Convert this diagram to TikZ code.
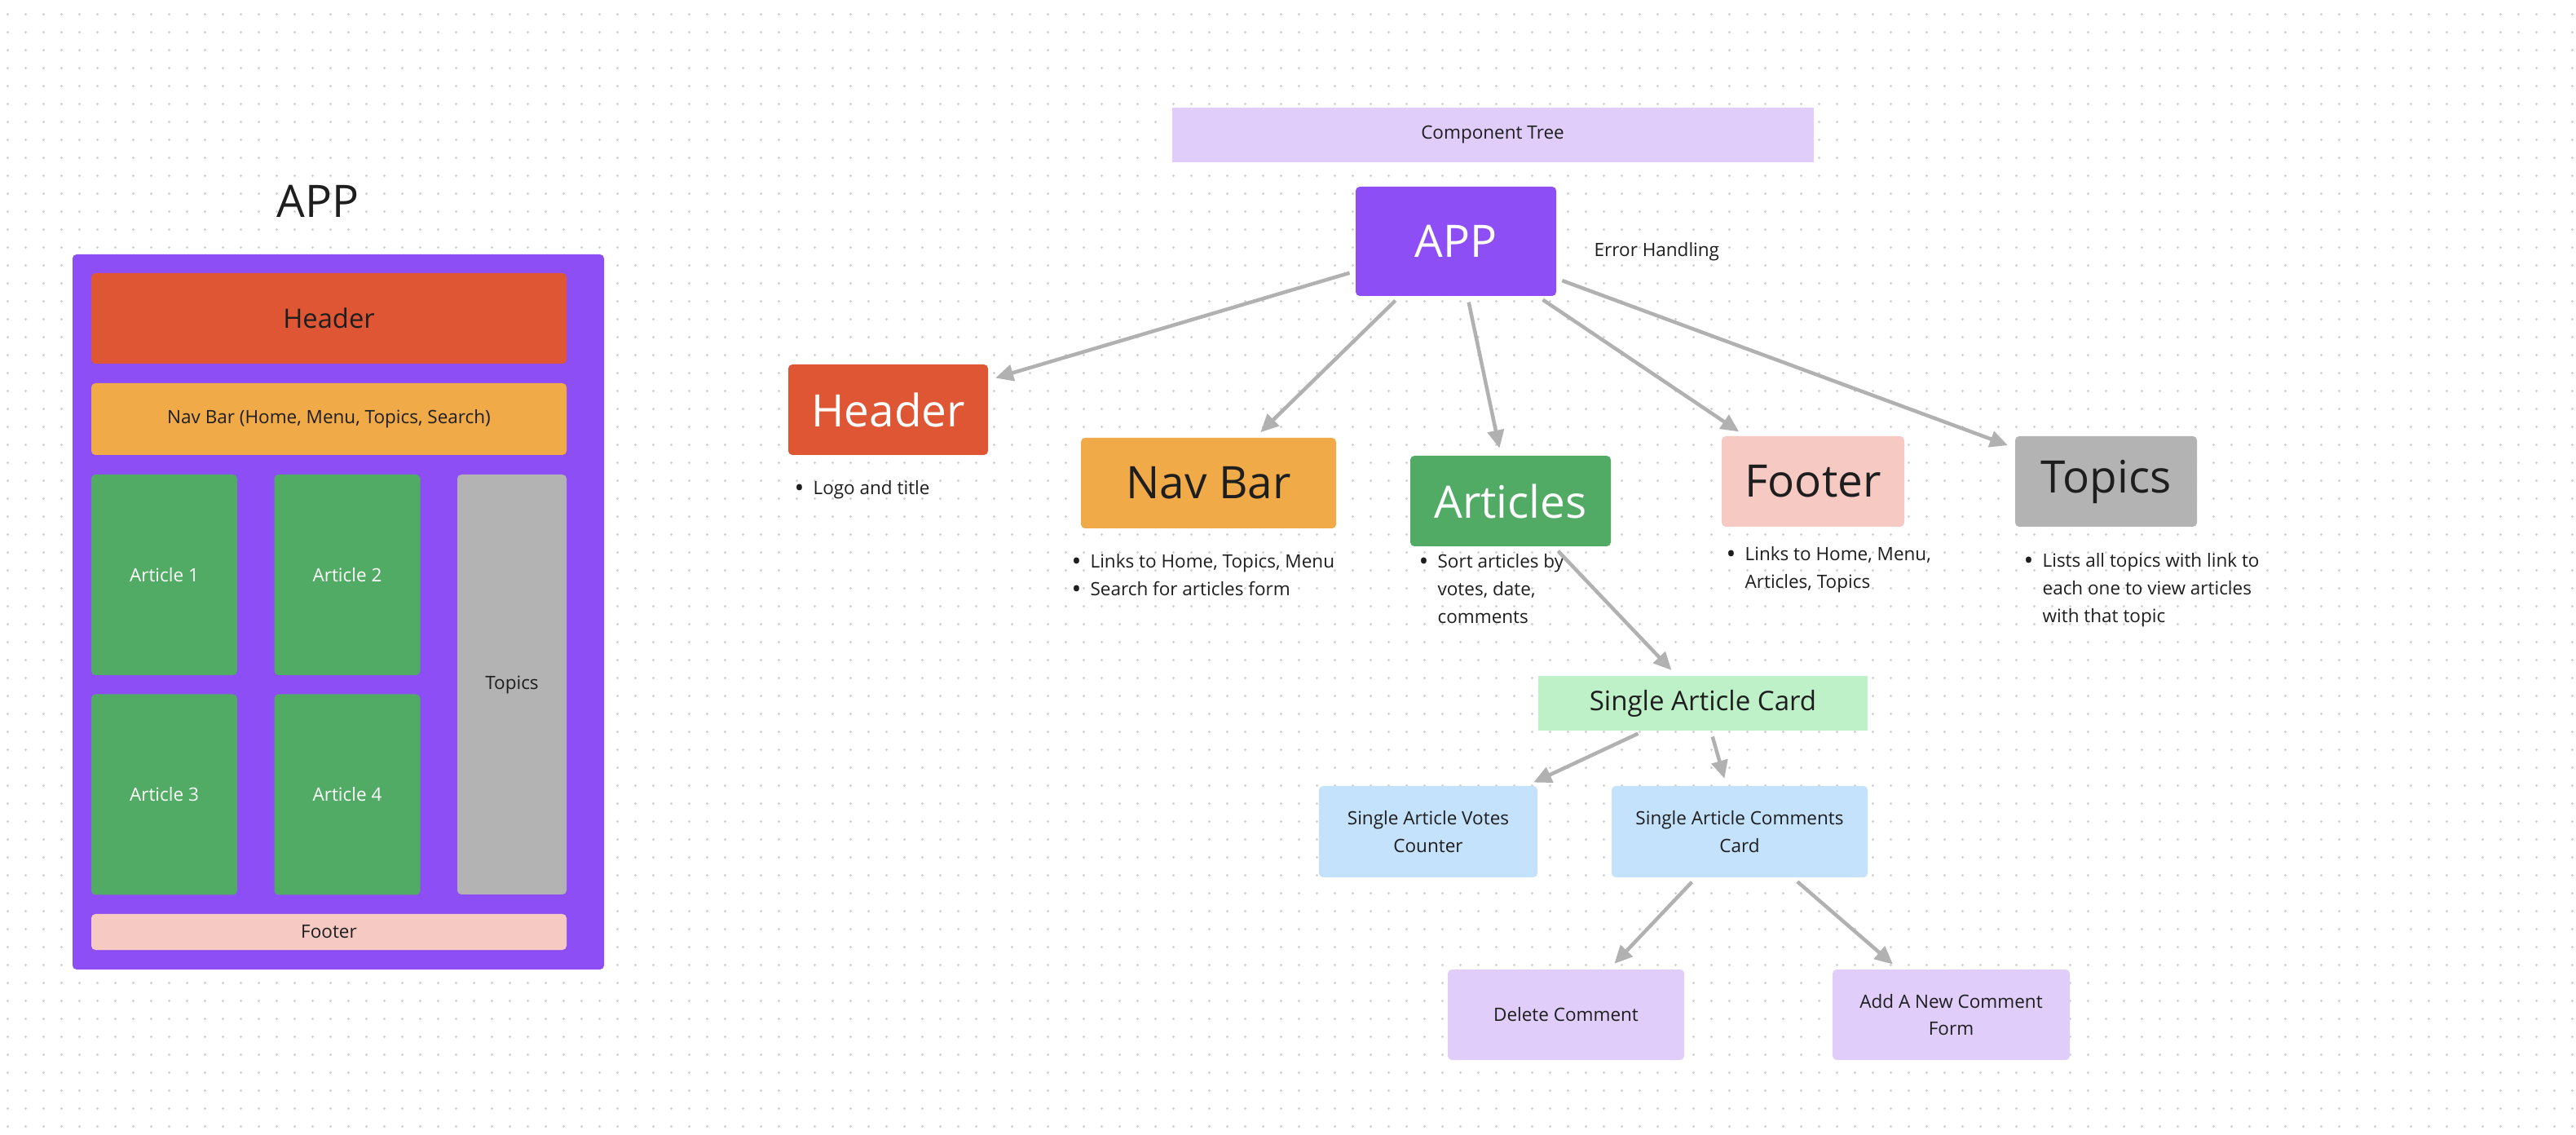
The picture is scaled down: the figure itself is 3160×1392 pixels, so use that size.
\documentclass[tikz,border=0pt]{standalone}
\usepackage{fontspec}
\setmainfont{Open Sans}
\usetikzlibrary{arrows.meta,patterns.meta}

\definecolor{appviolet}{HTML}{8E4EF5}
\definecolor{headerred}{HTML}{DF5634}
\definecolor{navorange}{HTML}{F0AA48}
\definecolor{artgreen}{HTML}{52AB65}
\definecolor{topgray}{HTML}{B3B3B3}
\definecolor{footpink}{HTML}{F6C9C2}
\definecolor{lilac}{HTML}{E0CDFA}
\definecolor{mint}{HTML}{BFF1C9}
\definecolor{skyblue}{HTML}{C4E2FB}
\definecolor{linegray}{HTML}{B1B1B1}
\definecolor{dotgray}{HTML}{CFCFCF}
\definecolor{ink}{HTML}{1E1E1E}

\tikzdeclarepattern{
	name=canvasdots,
	type=uncolored,
	bounding box={(0cm,0cm) and (0.22cm,0.22cm)},
	tile size={(0.22cm,0.22cm)},
	code={\fill (0.11cm,0.11cm) circle (0.017cm);}
}

\newcommand{\bulletlines}[1]{\begin{tabular}[t]{@{}c@{\hspace{0.11cm}}l@{}}#1\end{tabular}}
\newcommand{\dotmark}{\raisebox{-0.8pt}{\fontsize{9}{9.6}\selectfont\textbullet}}

\begin{document}
\begin{tikzpicture}[x=0.01cm, y=-0.01cm,
	boxsize/.style 2 args={minimum width=#1*0.01cm, minimum height=#2*0.01cm},
	box/.style={rounded corners=0.05cm, inner sep=0pt, align=center, text=ink, font=\fontsize{6.4}{9.6}\selectfont},
	bigbox/.style={box, font=\fontsize{15.6}{18}\selectfont},
	flatbox/.style={box, rounded corners=0pt},
	note/.style={anchor=base west, inner sep=0pt, text=ink, font=\fontsize{6.4}{9.6}\selectfont},
	link/.style={draw=linegray, line width=0.045cm, -{Triangle[length=0.22cm,width=0.2cm]}, shorten <=2pt, shorten >=2.5pt}]

	\useasboundingbox (0,0) rectangle (3160,1392);
	\fill[white] (0,0) rectangle (3160,1392);
	\fill[pattern=canvasdots, pattern color=dotgray] (0,0) rectangle (3160,1392); % canvas dots

	% layout sketch
	\node[text=ink, inner sep=0pt, font=\fontsize{15.6}{18}\selectfont] (lapp) at (390,247) {APP};
	\node[box, fill=appviolet, boxsize={652}{877}] (lframe) at (415,750.5) {};
	\node[box, fill=headerred, boxsize={583}{111}, font=\fontsize{9.3}{11}\selectfont] (lheader) at (403.5,390.5) {Header};
	\node[box, fill=navorange, boxsize={583}{88}] (lnav) at (403.5,514) {Nav Bar (Home, Menu, Topics, Search)};
	\foreach \n/\x/\y in {1/201.5/705, 2/426/705, 3/201.5/974.5, 4/426/974.5}
		\node[box, fill=artgreen, text=white, boxsize={179}{246}] (lart\n) at (\x,\y) {Article \n};
	\node[box, fill=topgray, boxsize={134}{515}] (ltopics) at (628,839.5) {Topics};
	\node[box, fill=footpink, boxsize={583}{44}] (lfooter) at (403.5,1143) {Footer};

	% component tree
	\node[flatbox, fill=lilac, boxsize={787}{67}] (tree) at (1831,165.5) {Component Tree};
	\node[bigbox, fill=appviolet, text=white, boxsize={246}{134}] (app) at (1786,296) {APP};
	\node[note] (errors) at (1955,315) {Error Handling};

	\node[bigbox, fill=headerred, text=white, boxsize={245}{111}] (header) at (1089.5,502.5) {Header};
	\node[bigbox, fill=navorange, boxsize={313}{111}] (navbar) at (1482.5,592.5) {Nav Bar};
	\node[bigbox, fill=artgreen, text=white, boxsize={246}{111}] (articles) at (1853,614.5) {Articles};
	\node[bigbox, fill=footpink, boxsize={224}{111}] (footer) at (2224,590.5) {Footer};
	\node[bigbox, fill=topgray, boxsize={223}{111}] (topics) at (2583.5,590.5) {Topics};

	\node[note] (headernote) at (974,607) {\bulletlines{\dotmark & Logo and title}};
	\node[note] (navnote) at (1314,697) {\bulletlines{\dotmark & Links to Home, Topics, Menu\\ \dotmark & Search for articles form}};
	\node[note] (articlesnote) at (1740,697) {\bulletlines{\dotmark & Sort articles by\\ & votes, date,\\ & comments}};
	\node[note] (footernote) at (2117,688) {\bulletlines{\dotmark & Links to Home, Menu,\\ & Articles, Topics}};
	\node[note] (topicsnote) at (2482,696) {\bulletlines{\dotmark & Lists all topics with link to\\ & each one to view articles\\ & with that topic}};

	\node[flatbox, fill=mint, boxsize={404}{67}, font=\fontsize{9.4}{11}\selectfont] (card) at (2089,862.5) {Single Article Card};
	\node[box, fill=skyblue, boxsize={268}{112}] (votes) at (1752,1020) {Single Article Votes\\Counter};
	\node[box, fill=skyblue, boxsize={314}{112}] (comments) at (2134,1020) {Single Article Comments\\Card};
	\node[box, fill=lilac, boxsize={290}{111}] (delete) at (1921,1244.5) {Delete Comment};
	\node[box, fill=lilac, boxsize={291}{111}] (addform) at (2393.5,1244.5) {Add A New Comment\\Form};

	\foreach \t in {header,navbar,articles,footer,topics}
		\draw[link] (app) -- (\t);
	\draw[link] (articles) -- (card);
	\draw[link] (card) -- (votes);
	\draw[link] (card) -- (comments);
	\draw[link] (comments) -- (delete);
	\draw[link] (comments) -- (addform);
\end{tikzpicture}
\end{document}
